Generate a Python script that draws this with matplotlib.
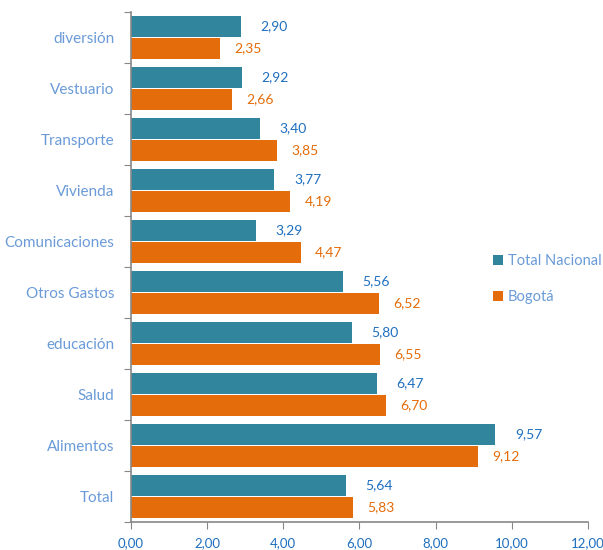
import matplotlib
matplotlib.use("Agg")
import matplotlib.pyplot as plt
import numpy as np

categories = ["diversión", "Vestuario", "Transporte", "Vivienda", "Comunicaciones",
              "Otros Gastos", "educación", "Salud", "Alimentos", "Total"]
nacional = [2.90, 2.92, 3.40, 3.77, 3.29, 5.56, 5.80, 6.47, 9.57, 5.64]
bogota = [2.35, 2.66, 3.85, 4.19, 4.47, 6.52, 6.55, 6.70, 9.12, 5.83]
series_names = ["Total Nacional", "Bogotá"]
xticks = [0, 2, 4, 6, 8, 10, 12]

teal = "#31859C"
orange = "#E46C0A"
lab_blue = "#6A9BD8"
num_blue = "#1F6FBF"

plt.rcParams['font.family'] = ['Lato', 'DejaVu Sans']

fig = plt.figure(figsize=(6.03, 5.5), dpi=100)
ax = fig.add_axes([0.217, 0.051, 0.758, 0.927])

n = len(categories)
y = np.arange(n)  # 0 at top
h = 0.42
gap = 0.01
b1 = ax.barh(y - h/2 - gap/2, nacional, height=h, color=teal, label=series_names[0])
b2 = ax.barh(y + h/2 + gap/2, bogota, height=h, color=orange, label=series_names[1])

for yi, v in zip(y, nacional):
    ax.annotate(f"{v:.2f}".replace(".", ","), (v, yi - h/2 - gap/2), xytext=(14, 0),
                textcoords="offset points", va="center", ha="left", color=num_blue, fontsize=10)
for yi, v in zip(y, bogota):
    ax.annotate(f"{v:.2f}".replace(".", ","), (v, yi + h/2 + gap/2), xytext=(10, 0),
                textcoords="offset points", va="center", ha="left", color=orange, fontsize=10)

ax.set_ylim(n - 0.5, -0.5)
ax.set_xlim(0, 12)
ax.set_xticks(xticks)
ax.set_xticklabels([f"{t:.2f}".replace(".", ",") for t in xticks], color=num_blue, fontsize=9.5)

ax.set_yticks(np.arange(-0.5, n, 1.0))
ax.set_yticklabels([])
ax.set_yticks(y, minor=True)
ax.set_yticklabels(categories, minor=True, color=lab_blue, fontsize=11)
ax.tick_params(axis="y", which="minor", length=0, pad=12)
ax.tick_params(axis="y", which="major", length=5, color="#888888", direction="out")
ax.tick_params(axis="x", length=5, color="#888888", direction="out", pad=6)

for s in ["top", "right"]:
    ax.spines[s].set_visible(False)
for s in ["left", "bottom"]:
    ax.spines[s].set_color("#888888")
    ax.spines[s].set_linewidth(1.2)

leg = fig.legend(handles=[b1, b2], loc="center left", bbox_to_anchor=(0.818, 0.492),
                 frameon=False, handlelength=0.7, handleheight=0.7, handletextpad=0.3,
                 labelspacing=1.5, fontsize=10.5, borderaxespad=0, borderpad=0)
for t in leg.get_texts():
    t.set_color(lab_blue)

fig.savefig("out.png", dpi=100)
